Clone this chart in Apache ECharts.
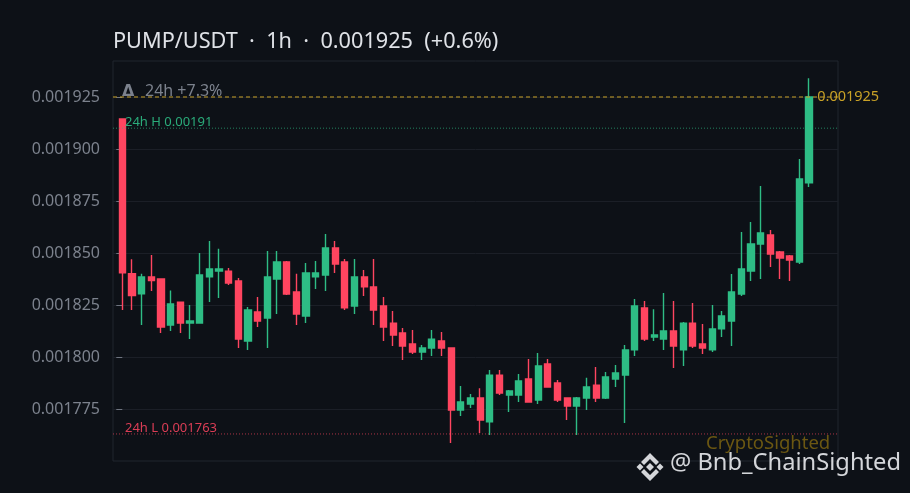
<!DOCTYPE html>
<html><head><meta charset="utf-8">
<style>html,body{margin:0;padding:0;background:#0d1117}#c{width:910px;height:493px}</style>
<script src="https://cdn.jsdelivr.net/npm/echarts@6/dist/echarts.min.js"></script>
</head><body><div id="c"></div>
<script>
// prices in millionths of USDT
const opensE6=[1914.4,1840.1,1830.4,1838.5,1837.5,1815.4,1826.4,1816.3,1816.3,1838.5,1841.3,1841.3,1836.5,1807.7,1821.6,1818.7,1837.5,1845.7,1831.3,1819.7,1838.5,1839.4,1852.4,1845.7,1824.5,1838.5,1833.7,1824.5,1816.3,1811.5,1806.3,1802.4,1804.3,1807.7,1804.3,1774.5,1777.4,1780.3,1768.8,1791.3,1781.7,1781.7,1789.4,1779.3,1796.6,1787.5,1780.3,1776.4,1780.3,1786.5,1780.3,1789.4,1791.3,1803.4,1823.6,1809.6,1808.6,1812.5,1803.4,1816.3,1806.3,1803.4,1813.5,1817.3,1830.3,1841.3,1854.3,1858.7,1850.5,1848.6,1845.7,1883.7];
const closesE6=[1840.5,1829.5,1838.5,1836.7,1814.4,1825.5,1816.3,1817.3,1839.4,1842.3,1842.3,1835.6,1808.6,1822.6,1817.3,1838.5,1845.7,1830.3,1820.7,1840.4,1840.4,1852.4,1844.7,1823.6,1838.5,1833.7,1822.6,1814.4,1810.6,1805.3,1802.4,1804.3,1808.6,1804.3,1774.5,1778.4,1780.3,1769.7,1791.3,1782.7,1783.7,1788.5,1778.4,1795.7,1785.6,1779.3,1776.4,1780.3,1785.6,1780.3,1790.4,1792.3,1803.4,1824.5,1808.6,1810.6,1812.5,1805.3,1816.3,1805.3,1804.3,1813.5,1819.7,1831.3,1842.3,1854.3,1859.6,1849.5,1847.6,1846.6,1885.6,1925.0];
const lowsE6=[1822.6,1822.6,1815.4,1831.7,1811.5,1812.5,1811.5,1808.6,1816.0,1826.4,1828.4,1834.6,1804.3,1803.4,1814.4,1804.3,1820.7,1829.8,1815.4,1816.3,1832.7,1831.7,1840.4,1822.6,1820.7,1829.3,1815.4,1807.7,1805.3,1798.6,1801.4,1798.6,1800.5,1800.5,1758.7,1771.6,1775.5,1763.5,1762.5,1781.7,1773.6,1778.4,1778.4,1777.4,1785.6,1778.4,1769.7,1762.5,1774.5,1778.4,1779.8,1785.6,1768.3,1800.5,1807.7,1807.7,1803.4,1794.7,1795.7,1804.3,1801.4,1802.4,1809.6,1805.3,1829.3,1836.5,1837.5,1843.3,1837.5,1836.5,1844.7,1881.7];
const highsE6=[1914.4,1847.0,1840.0,1849.0,1837.5,1832.0,1826.4,1825.0,1850.0,1855.8,1852.0,1842.8,1838.0,1824.0,1828.8,1851.0,1851.0,1846.2,1840.0,1845.2,1846.2,1859.1,1855.8,1847.1,1847.1,1841.8,1847.1,1828.8,1822.1,1813.9,1813.0,1805.8,1813.0,1812.0,1804.3,1786.0,1782.2,1785.0,1793.8,1793.8,1784.1,1791.8,1799.0,1801.9,1799.0,1789.0,1780.3,1780.8,1790.0,1795.2,1792.8,1796.2,1805.8,1827.9,1826.9,1823.0,1830.8,1826.9,1816.8,1826.0,1815.9,1825.0,1822.1,1839.9,1860.1,1864.9,1882.2,1861.0,1851.0,1849.0,1895.2,1934.0];
const yTickValues=[0.001775,0.0018,0.001825,0.00185,0.001875,0.0019,0.001925];
const lastPrice=0.001925, high24=0.00191, low24=0.001763;
const titleText='PUMP/USDT  ·  1h  ·  0.001925  (+0.6%)';
const changeText='24h +7.3%', highLabel='24h H 0.00191', lowLabel='24h L 0.001763', lastLabel='0.001925';
const brandText='CryptoSighted', handleText='@ Bnb_ChainSighted';

const UP='#2ebd85', DOWN='#ff4560', GOLD='#c9a227', FONT='"Noto Sans"';
const X_MIN=-0.96, X_MAX=74;
const candles=opensE6.map((o,i)=>[i,o/1e6,closesE6[i]/1e6,lowsE6[i]/1e6,highsE6[i]/1e6]);
const chart=echarts.init(document.getElementById('c'),null,{renderer:'canvas'});
const LOGO='#d4d6da';
const diamond=(cx,cy,r)=>({type:'polygon',silent:true,z:30,shape:{points:[[cx,cy-r],[cx+r,cy],[cx,cy+r],[cx-r,cy]]},style:{fill:LOGO}});
const chevron=(pts)=>({type:'polygon',silent:true,z:30,shape:{points:pts},style:{fill:LOGO}});
const refLine=(name,v,color,type,opacity)=>({type:'line',name,data:[[X_MIN,v],[X_MAX,v]],symbol:'none',silent:true,z:3,lineStyle:{color,type,width:1,opacity}});
const tagSeries=(v,x,text,color,size,pos,align,op,dist)=>({type:'scatter',data:[[x,v]],symbolSize:0,silent:true,z:4,
  label:{show:true,formatter:text,position:pos,align,color,fontFamily:FONT,fontSize:size,opacity:op,distance:dist}});
chart.setOption({
  animation:false,
  backgroundColor:'#0d1117',
  title:{text:titleText,left:108,top:26,textStyle:{color:'#dfe2e7',fontFamily:FONT,fontSize:21.7,fontWeight:400}},
  grid:{left:113,right:72,top:61,bottom:32,show:true,borderColor:'#21262e',borderWidth:1,backgroundColor:'transparent'},
  xAxis:{type:'value',min:X_MIN,max:X_MAX,axisLine:{show:false},axisTick:{show:false},axisLabel:{show:false},splitLine:{show:false}},
  yAxis:{type:'value',min:0.00175,max:0.0019423,scale:true,
    axisLine:{show:false},
    axisTick:{show:true,length:6,customValues:yTickValues,lineStyle:{color:'#6f7580',width:1}},
    axisLabel:{customValues:yTickValues,color:'#7c828d',fontFamily:FONT,fontSize:16,margin:13,padding:[2,0,0,0],formatter:v=>v.toFixed(6)},
    splitLine:{show:true,lineStyle:{color:'#1b1f27',width:1}}},
  series:[
    {type:'candlestick',barWidth:6.6,z:2,
     data:candles,encode:{x:0,y:[1,2,3,4]},
     itemStyle:{color:UP,color0:DOWN,borderColor:UP,borderColor0:DOWN,borderWidth:1.4}},
    refLine('last',lastPrice,GOLD,[4,3],1),
    refLine('high',high24,UP,[1,2],.65),
    refLine('low',low24,DOWN,[1,2],.65),
    tagSeries(lastPrice,71.85,lastLabel,GOLD,14.5,'right','left',1,0),
    tagSeries(high24,0.28,highLabel,UP,13,'top','left',.9,-1),
    tagSeries(low24,0.28,lowLabel,DOWN,13,'top','left',.85,-1)
  ],
  graphic:[
    {type:'text',silent:true,z:20,left:122,top:84,style:{text:'Δ',fill:'#7c828d',fontFamily:'"DejaVu Sans"',fontWeight:700,fontSize:16}},
    {type:'text',silent:true,z:20,left:145,top:83,style:{text:changeText,fill:'#7c828d',fontFamily:FONT,fontSize:16}},
    {type:'text',silent:true,z:20,left:706,top:434,style:{text:brandText,fill:'#6b5712',fontFamily:FONT,fontSize:18.5}},
    {type:'text',silent:true,z:30,left:670,top:451,style:{text:handleText,fill:LOGO,fontFamily:FONT,fontSize:23.7}},
    diamond(650,467,4),diamond(640,467,3.5),diamond(660,467,3.5),
    chevron([[650,453],[659,462],[656,465],[650,459],[644,465],[641,462]]),
    chevron([[650,481],[659,472],[656,469],[650,475],[644,469],[641,472]])
  ]
});
</script></body></html>
